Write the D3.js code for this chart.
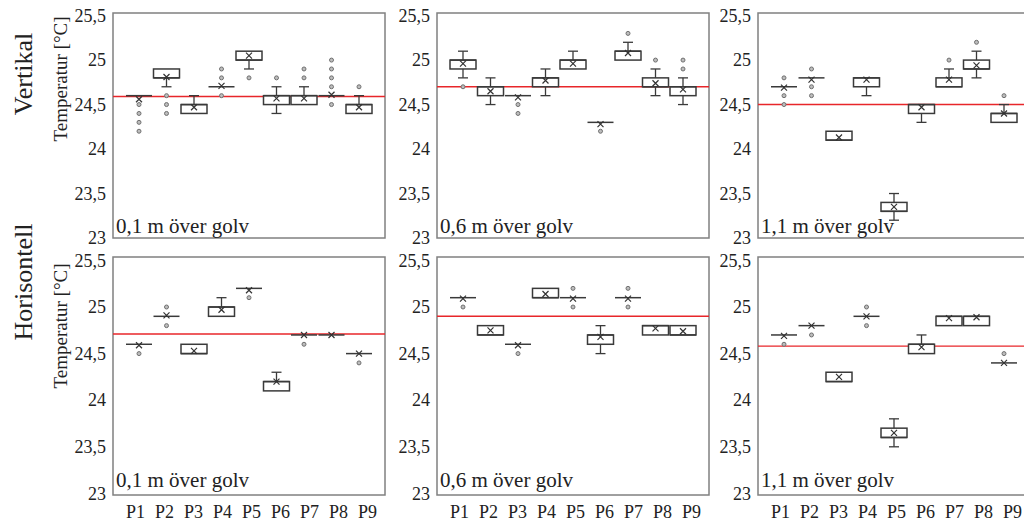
<!DOCTYPE html>
<html>
<head>
<meta charset="utf-8">
<script src="https://cdn.jsdelivr.net/npm/d3@7"></script>
<style>
  html, body { margin: 0; padding: 0; background: #fff; }
  svg { display: block; }
  text { font-family: "Liberation Serif", "Times New Roman", serif; fill: #222; }
</style>
</head>
<body>
<svg id="chart" width="1024" height="523"></svg>
<script>
// Categories and labels
const categories = ["P1", "P2", "P3", "P4", "P5", "P6", "P7", "P8", "P9"];
const yTicks = [23, 23.5, 24, 24.5, 25, 25.5];
const heightLabels = ["0,1 m över golv", "0,6 m över golv", "1,1 m över golv"];
const rowLabels = ["Vertikal", "Horisontell"];
const axisTitle = "Temperatur [°C]";

// Panels in order: Vertikal 0,1 / 0,6 / 1,1 m, then Horisontell 0,1 / 0,6 / 1,1 m
const q1 = [
  [24.6, 24.8, 24.4, 24.7, 25.0, 24.5, 24.5, 24.6, 24.4],
  [24.9, 24.6, 24.6, 24.7, 24.9, 24.3, 25.0, 24.7, 24.6],
  [24.7, 24.8, 24.1, 24.7, 23.3, 24.4, 24.7, 24.9, 24.3],
  [24.6, 24.9, 24.5, 24.9, 25.2, 24.1, 24.7, 24.7, 24.5],
  [25.1, 24.7, 24.6, 25.1, 25.1, 24.6, 25.1, 24.7, 24.7],
  [24.7, 24.8, 24.2, 24.9, 23.6, 24.5, 24.8, 24.8, 24.4]
];
const q3 = [
  [24.6, 24.9, 24.5, 24.7, 25.1, 24.6, 24.6, 24.6, 24.5],
  [25.0, 24.7, 24.6, 24.8, 25.0, 24.3, 25.1, 24.8, 24.7],
  [24.7, 24.8, 24.2, 24.8, 23.4, 24.5, 24.8, 25.0, 24.4],
  [24.6, 24.9, 24.6, 25.0, 25.2, 24.2, 24.7, 24.7, 24.5],
  [25.1, 24.8, 24.6, 25.2, 25.1, 24.7, 25.1, 24.8, 24.8],
  [24.7, 24.8, 24.3, 24.9, 23.7, 24.6, 24.9, 24.9, 24.4]
];
const medians = [
  [24.6, 24.8, 24.5, 24.7, 25.0, 24.6, 24.6, 24.6, 24.5],
  [25.0, 24.7, 24.6, 24.8, 25.0, 24.3, 25.1, 24.7, 24.7],
  [24.7, 24.8, 24.1, 24.8, 23.3, 24.5, 24.7, 24.9, 24.4],
  [24.6, 24.9, 24.5, 25.0, 25.2, 24.2, 24.7, 24.7, 24.5],
  [25.1, 24.7, 24.6, 25.1, 25.1, 24.7, 25.1, 24.8, 24.7],
  [24.7, 24.8, 24.2, 24.9, 23.6, 24.6, 24.9, 24.9, 24.4]
];
const whiskerLow = [
  [24.6, 24.7, 24.4, 24.7, 24.9, 24.4, 24.5, 24.6, 24.4],
  [24.8, 24.5, 24.6, 24.6, 24.9, 24.3, 25.0, 24.6, 24.5],
  [24.7, 24.8, 24.1, 24.6, 23.2, 24.3, 24.7, 24.8, 24.3],
  [24.6, 24.9, 24.5, 24.9, 25.2, 24.1, 24.7, 24.7, 24.5],
  [25.1, 24.7, 24.6, 25.1, 25.1, 24.5, 25.1, 24.7, 24.7],
  [24.7, 24.8, 24.2, 24.9, 23.5, 24.5, 24.8, 24.8, 24.4]
];
const whiskerHigh = [
  [24.6, 24.9, 24.6, 24.7, 25.1, 24.7, 24.7, 24.6, 24.6],
  [25.1, 24.8, 24.6, 24.9, 25.1, 24.3, 25.2, 24.9, 24.8],
  [24.7, 24.8, 24.2, 24.8, 23.5, 24.5, 24.9, 25.1, 24.5],
  [24.6, 24.9, 24.6, 25.1, 25.2, 24.3, 24.7, 24.7, 24.5],
  [25.1, 24.8, 24.6, 25.2, 25.1, 24.8, 25.1, 24.8, 24.8],
  [24.7, 24.8, 24.3, 24.9, 23.8, 24.7, 24.9, 24.9, 24.4]
];
const means = [
  [24.56, 24.81, 24.47, 24.71, 25.05, 24.57, 24.57, 24.61, 24.47],
  [24.96, 24.65, 24.58, 24.77, 24.96, 24.28, 25.08, 24.74, 24.67],
  [24.69, 24.78, 24.13, 24.78, 23.35, 24.47, 24.78, 24.94, 24.40],
  [24.59, 24.91, 24.53, 24.97, 25.18, 24.20, 24.70, 24.70, 24.50],
  [25.09, 24.75, 24.59, 25.14, 25.09, 24.68, 25.09, 24.77, 24.74],
  [24.69, 24.80, 24.25, 24.90, 23.65, 24.57, 24.88, 24.89, 24.40]
];
const outliers = [
  [[24.5, 24.4, 24.3, 24.2], [24.6, 24.5, 24.4], [], [24.9, 24.8, 24.6], [24.8], [24.8], [24.9, 24.8], [25.0, 24.9, 24.8, 24.7, 24.5], [24.7]],
  [[24.7], [], [24.5, 24.4], [], [], [24.2], [25.3], [25.0], [25.0, 24.9]],
  [[24.8, 24.6, 24.5], [24.9, 24.7, 24.6], [], [], [], [], [25.0], [25.2], [24.6]],
  [[24.5], [25.0, 24.8], [], [], [25.1], [], [24.6], [], [24.4]],
  [[25.0], [], [24.5], [], [25.2, 25.0], [], [25.2, 25.0], [], []],
  [[24.6], [24.7], [], [25.0, 24.8], [], [], [], [], [24.5]]
];
const referenceLines = [24.59, 24.7, 24.5, 24.71, 24.9, 24.58];

// Layout
const panelLefts = [113, 437, 758];
const panelWidth = 272;
const rowFrames = [[13, 238], [257, 495]];     // frame top / bottom per row
const rowRanges = [[238, 15.6], [493.4, 260.4]]; // value range per row
const boxWidth = 26;

const svg = d3.select("#chart");
const fmt = d => String(d).replace(".", ",");

for (let p = 0; p < 6; p++) {
  const row = Math.floor(p / 3), col = p % 3;
  const left = panelLefts[col], right = left + panelWidth;
  const [top, bottom] = rowFrames[row];

  const y = d3.scaleLinear().domain([23, 25.5]).range(rowRanges[row]);
  const x = d3.scalePoint().domain(categories).range([left + 26, right - 26]);

  const g = svg.append("g");

  // frame
  g.append("rect")
    .attr("x", left).attr("y", top)
    .attr("width", panelWidth).attr("height", bottom - top)
    .attr("fill", "none").attr("stroke", "#808080").attr("stroke-width", 1.5);

  // y axis labels
  const ya = g.append("g").attr("transform", `translate(${left},0)`)
    .call(d3.axisLeft(y).tickValues(yTicks).tickSize(0).tickPadding(7).tickFormat(fmt));
  ya.select(".domain").remove();
  ya.selectAll("text").attr("font-size", 18).attr("fill", "#222");

  // category labels on bottom row
  if (row === 1) {
    const xl = d3.scalePoint().domain(categories).range([left + 22, left + 254]);
    const xa = g.append("g").attr("transform", `translate(0,${bottom})`)
      .call(d3.axisBottom(xl).tickSize(0).tickPadding(10));
    xa.select(".domain").remove();
    xa.selectAll("text").attr("font-size", 18).attr("fill", "#222");
  }

  // reference line
  g.append("line")
    .attr("x1", left).attr("x2", right)
    .attr("y1", y(referenceLines[p])).attr("y2", y(referenceLines[p]))
    .attr("stroke", "#e8262a").attr("stroke-width", 1.4);

  const items = categories.map((c, i) => ({
    c, q1: q1[p][i], q3: q3[p][i], med: medians[p][i],
    lo: whiskerLow[p][i], hi: whiskerHigh[p][i], mean: means[p][i], out: outliers[p][i]
  }));

  const boxes = g.selectAll("g.box").data(items).join("g").attr("class", "box");
  const ink = "#3a3a3a";

  // whiskers
  boxes.filter(d => d.hi > d.q3).each(function (d) {
    const s = d3.select(this), cx = x(d.c);
    s.append("line").attr("x1", cx).attr("x2", cx).attr("y1", y(d.q3)).attr("y2", y(d.hi)).attr("stroke", ink).attr("stroke-width", 1.3);
    s.append("line").attr("x1", cx - 5).attr("x2", cx + 5).attr("y1", y(d.hi)).attr("y2", y(d.hi)).attr("stroke", ink).attr("stroke-width", 1.3);
  });
  boxes.filter(d => d.lo < d.q1).each(function (d) {
    const s = d3.select(this), cx = x(d.c);
    s.append("line").attr("x1", cx).attr("x2", cx).attr("y1", y(d.q1)).attr("y2", y(d.lo)).attr("stroke", ink).attr("stroke-width", 1.3);
    s.append("line").attr("x1", cx - 5).attr("x2", cx + 5).attr("y1", y(d.lo)).attr("y2", y(d.lo)).attr("stroke", ink).attr("stroke-width", 1.3);
  });

  // boxes
  boxes.append("rect")
    .attr("x", d => x(d.c) - boxWidth / 2)
    .attr("y", d => y(d.q3))
    .attr("width", boxWidth)
    .attr("height", d => y(d.q1) - y(d.q3))
    .attr("fill", "#fff").attr("stroke", ink).attr("stroke-width", 1.5);

  // medians
  boxes.append("line")
    .attr("x1", d => x(d.c) - boxWidth / 2).attr("x2", d => x(d.c) + boxWidth / 2)
    .attr("y1", d => y(d.med)).attr("y2", d => y(d.med))
    .attr("stroke", ink).attr("stroke-width", 1.5);

  // mean markers
  boxes.append("path")
    .attr("d", d => {
      const cx = x(d.c), cy = y(d.mean), r = 3;
      return `M${cx - r},${cy - r}L${cx + r},${cy + r}M${cx - r},${cy + r}L${cx + r},${cy - r}`;
    })
    .attr("stroke", "#333").attr("stroke-width", 1.2).attr("fill", "none");

  // outliers
  boxes.selectAll("circle")
    .data(d => d.out.map(v => ({ c: d.c, v })))
    .join("circle")
    .attr("cx", d => x(d.c)).attr("cy", d => y(d.v)).attr("r", 2)
    .attr("fill", "#bdbdbd").attr("stroke", "#707070").attr("stroke-width", 1);

  // height label
  g.append("text")
    .attr("x", left + 3).attr("y", bottom - (row === 0 ? 5 : 8))
    .attr("font-size", 21)
    .text(heightLabels[col]);
}

// row titles and axis titles
const rowCenters = [74, 282];
const titleCenters = [79, 326];
rowLabels.forEach((t, r) => {
  svg.append("text")
    .attr("transform", `translate(32,${rowCenters[r]}) rotate(-90)`)
    .attr("text-anchor", "middle").attr("font-size", 26).text(t);
  svg.append("text")
    .attr("transform", `translate(67,${titleCenters[r]}) rotate(-90)`)
    .attr("text-anchor", "middle").attr("font-size", 19).text(axisTitle);
});
</script>
</body>
</html>
